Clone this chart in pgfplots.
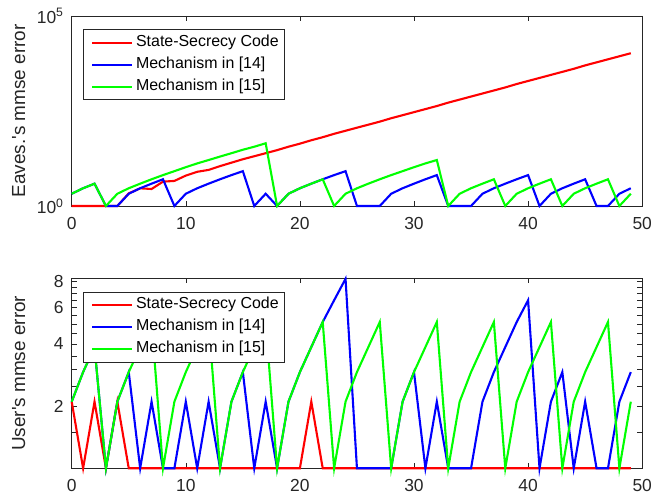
\documentclass[border=0pt]{standalone}
\usepackage{fontspec}
\setmainfont{Liberation Sans}
\usepackage{pgfplots}
\pgfplotsset{compat=1.18}
\usepackage{pgfplotstable}
\definecolor{mred}{RGB}{255,0,0}
\definecolor{mblue}{RGB}{0,0,255}
\definecolor{mgreen}{RGB}{0,255,0}
\definecolor{axgray}{RGB}{38,38,38}

% Eve's mmse error
\pgfplotstableread{
k red blue green
0 1 2.1 2.1
1 1 2.93 2.93
2 1 3.87 3.87
3 1 1 1
4 1 1 2.1
5 2.15 2.1 2.93
6 2.92 2.93 3.87
7 2.80 3.87 5.05
8 4.37 5.05 6.5
9 4.57 1 8.25
10 6.31 2.1 10.5
11 7.94 2.93 13.2
12 8.91 3.87 16.2
13 11.2 5.05 20.0
14 13.8 6.5 24.5
15 17.0 8.25 30.2
16 20.4 1 36.3
17 24.5 2.1 44.7
18 29.5 1 1
19 36.3 2.1 2.1
20 43.7 2.93 2.93
21 53.7 3.87 3.87
22 64.6 5.05 5.05
23 79.4 6.5 1
24 95.5 8.25 2.1
25 115 1 2.93
26 138 1 3.87
27 166 1 5.05
28 204 2.1 6.5
29 245 2.93 8.25
30 295 3.87 10.5
31 355 5.05 13.2
32 427 6.5 16.2
33 525 1 1
34 631 1 2.1
35 759 1 2.93
36 912 2.1 3.87
37 1096 2.93 5.05
38 1318 3.87 1
39 1622 5.05 2.1
40 1950 6.5 2.93
41 2344 1 3.87
42 2818 2.1 5.05
43 3388 2.93 1
44 4074 3.87 2.1
45 5012 5.05 2.93
46 6026 1 3.87
47 7244 1 5.05
48 8710 2.1 1
49 10471 2.93 2.1
}\evetable

% user's mmse error
\pgfplotstableread{
k red blue green
0 2.1 2.1 2.1
1 1 2.92 2.92
2 2.1 3.86 3.86
3 1 1 1
4 2.1 2.1 2.1
5 1 2.92 2.92
6 1 1 3.86
7 1 2.1 5.1
8 1 1 1
9 1 1 2.1
10 1 2.1 2.92
11 1 1 3.86
12 1 2.1 5.1
13 1 1 1
14 1 2.1 2.1
15 1 2.92 2.92
16 1 1 3.86
17 1 2.1 5.1
18 1 1 1
19 1 2.1 2.1
20 1 2.92 2.92
21 2.1 3.86 3.86
22 1 5.1 5.1
23 1 6.5 1
24 1 8.25 2.1
25 1 1 2.92
26 1 1 3.86
27 1 1 5.1
28 1 1 1
29 1 2.1 2.1
30 1 2.92 2.92
31 1 1 3.86
32 1 2.1 5.1
33 1 1 1
34 1 1 2.1
35 1 1 2.92
36 1 2.1 3.86
37 1 2.92 5.1
38 1 3.86 1
39 1 5.1 2.1
40 1 6.5 2.92
41 1 1 3.86
42 1 2.1 5.1
43 1 2.92 1
44 1 1 2.1
45 1 2.1 2.92
46 1 1 3.86
47 1 1 5.1
48 1 2.1 1
49 1 2.92 2.1
}\usertable

\pgfplotsset{
  mstyle/.style={
    scale only axis, width=570.5bp, height=190bp,
    xmin=0, xmax=50, xtick={0,10,...,50},
    axis line style={axgray, line width=0.6bp},
    tick style={axgray, line width=0.6bp},
    major tick length=5bp, minor tick length=5bp,
    tick label style={font=\fontsize{17.5}{21}\selectfont, text=axgray},
    /pgf/number format/assume math mode=true,
    xticklabel style={inner sep=0pt, yshift=-11bp},
    yticklabel style={inner sep=0pt, xshift=-8bp},
    label style={font=\fontsize{19}{23}\selectfont, text=axgray},
    ylabel style={at={(axis description cs:-0.093,0.5)}, anchor=center},
    clip=false,
    every axis plot/.append style={line width=2.1bp},
    legend style={
      at={(0.0203,0.93)}, anchor=north west,
      draw=axgray, line width=0.6bp, fill=white,
      font=\fontsize{16}{19}\selectfont,
      inner xsep=2.5bp, inner ysep=2bp, row sep=0pt,
      nodes={inner xsep=3bp, inner ysep=3bp, text height=12bp, text depth=4bp},
    },
    legend cell align=left,
    legend image code/.code={\path (0bp,0bp); \draw[##1, line width=2.1bp] (4.9bp,0bp) -- (44.9bp,0bp);},
  }
}

\begin{document}
\begin{tikzpicture}
\useasboundingbox (0,0) rectangle (662bp,498bp);
\begin{axis}[ymode=log, mstyle, at={(71.7bp,292bp)}, anchor=south west,
  ymin=1, ymax=100000, ytick={1,100000},
  yticklabels={10\textsuperscript{0},10\textsuperscript{5}},
  minor y tick style={draw=none},
  ylabel={Eaves.\textquotesingle{}s mmse error}]
\addplot[mred] table[x=k,y=red]{\evetable};
\addplot[mblue] table[x=k,y=blue]{\evetable};
\addplot[mgreen] table[x=k,y=green]{\evetable};
\legend{State-Secrecy Code,Mechanism in [14],Mechanism in [15]}
\end{axis}
\begin{axis}[ymode=log, mstyle, at={(71.7bp,29.7bp)}, anchor=south west,
  ymin=1, ymax=8.3, ytick={2,4,6,8}, yticklabels={2,4,6,8},
  minor ytick={1.5,2.5,3,3.5,4.5,5,5.5,6.5,7,7.5},
  ylabel={User\textquotesingle{}s mmse error}]
\addplot[mred] table[x=k,y=red]{\usertable};
\addplot[mblue] table[x=k,y=blue]{\usertable};
\addplot[mgreen] table[x=k,y=green]{\usertable};
\legend{State-Secrecy Code,Mechanism in [14],Mechanism in [15]}
\end{axis}
\end{tikzpicture}
\end{document}
